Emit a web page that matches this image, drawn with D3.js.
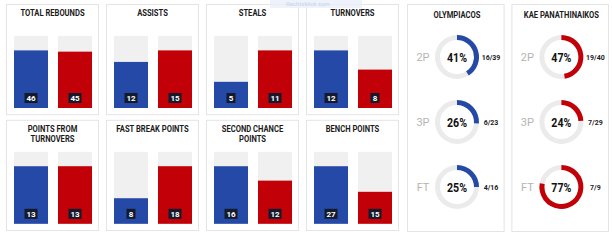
<!DOCTYPE html>
<html>
<head>
<meta charset="utf-8">
<script src="https://cdn.jsdelivr.net/npm/d3@7"></script>
<style>
  body { margin: 0; background: #fff; }
  svg { display: block; font-family: "Roboto", sans-serif; }
</style>
</head>
<body>
<div id="chart"></div>
<script>
const width = 612
const height = 246

// team comparison stats
const statTitles = [["TOTAL REBOUNDS"], ["ASSISTS"], ["STEALS"], ["TURNOVERS"],
  ["POINTS FROM", "TURNOVERS"], ["FAST BREAK POINTS"], ["SECOND CHANCE", "POINTS"], ["BENCH POINTS"]]
const olyValues = [46, 12, 5, 12, 13, 8, 16, 27]
const panValues = [45, 15, 11, 8, 13, 18, 12, 15]

// shooting
const teams = ["OLYMPIACOS", "KAE PANATHINAIKOS"]
const shotTypes = ["2P", "3P", "FT"]
const olyMade = [16, 6, 4]
const olyAtt = [39, 23, 16]
const panMade = [19, 7, 7]
const panAtt = [40, 29, 9]

const blue = "#2449a6"
const red = "#c20008"
const track = "#f0f0f0"
const border = "#e4e4e4"
const condensed = "scale(0.8,1)"

const svg = d3.select("#chart").append("svg")
  .attr("width", width)
  .attr("height", height)

const colX = d3.scaleBand().domain([0, 1, 2, 3]).range([6, 399]).paddingInner(0.07)
const rowY = d3.scaleBand().domain([0, 1]).range([4, 231]).paddingInner(0.04)
const barX = d3.scaleBand().domain(["oly", "pan"]).range([8, 86]).paddingInner(0.227)

const stats = statTitles.map((t, i) => ({ title: t, oly: olyValues[i], pan: panValues[i], col: i % 4, row: Math.floor(i / 4) }))

const panel = svg.selectAll("g.stat")
  .data(stats)
  .join("g")
    .attr("class", "stat")
    .attr("transform", d => `translate(${colX(d.col)},${rowY(d.row)})`)

panel.append("rect")
  .attr("x", 0.5).attr("y", 0.5)
  .attr("width", colX.bandwidth() - 1)
  .attr("height", rowY.bandwidth() - 1)
  .attr("fill", "#fff")
  .attr("stroke", border)

panel.each(function(d) {
  const g = d3.select(this)
  g.selectAll("g.title")
    .data(d.title)
    .join("g")
      .attr("class", "title")
      .attr("transform", (t, j) => `translate(${colX.bandwidth() / 2},${12 + j * 10}) ${condensed}`)
    .append("text")
      .attr("text-anchor", "middle")
      .attr("font-size", 9.5)
      .attr("font-weight", "bold")
      .attr("fill", "#1b1b1b")
      .text(t => t)

  const top = 32, bottom = 104
  const y = d3.scaleLinear().domain([0, Math.max(d.oly, d.pan) / 0.8]).range([bottom, top])
  const bars = [{ k: "oly", v: d.oly, c: blue }, { k: "pan", v: d.pan, c: red }]

  g.selectAll("rect.track")
    .data(bars)
    .join("rect")
      .attr("class", "track")
      .attr("x", b => barX(b.k))
      .attr("width", barX.bandwidth())
      .attr("y", top)
      .attr("height", bottom - top)
      .attr("fill", track)

  g.selectAll("rect.bar")
    .data(bars)
    .join("rect")
      .attr("class", "bar")
      .attr("x", b => barX(b.k))
      .attr("width", barX.bandwidth())
      .attr("y", b => y(b.v))
      .attr("height", b => bottom - y(b.v))
      .attr("fill", b => b.c)

  const lab = g.selectAll("g.lab")
    .data(bars)
    .join("g")
      .attr("class", "lab")
      .attr("transform", b => `translate(${barX(b.k) + barX.bandwidth() / 2},${bottom - 10})`)
  lab.append("rect")
    .attr("x", b => String(b.v).length > 1 ? -6.5 : -4.5)
    .attr("width", b => String(b.v).length > 1 ? 13 : 9)
    .attr("y", -5)
    .attr("height", 10)
    .attr("fill", "#141a2b")
  lab.append("text")
    .attr("text-anchor", "middle")
    .attr("dy", 3)
    .attr("font-size", 8)
    .attr("font-weight", "bold")
    .attr("fill", "#fff")
    .text(b => b.v)
})

// shooting panels
const shootX = d3.scaleBand().domain(teams).range([407, 609]).paddingInner(0.065)
const shotY = d3.scalePoint().domain(shotTypes).range([57, 187])
const arc = d3.arc().innerRadius(17).outerRadius(22)
const shooting = [
  { team: teams[0], color: blue, made: olyMade, att: olyAtt },
  { team: teams[1], color: red, made: panMade, att: panAtt }
]

const sp = svg.selectAll("g.shoot")
  .data(shooting)
  .join("g")
    .attr("class", "shoot")
    .attr("transform", d => `translate(${shootX(d.team)},0)`)

sp.append("rect")
  .attr("x", 0.5).attr("y", 4.5)
  .attr("width", shootX.bandwidth() - 1)
  .attr("height", 227)
  .attr("fill", "#fff")
  .attr("stroke", border)

sp.append("g")
  .attr("transform", `translate(50,18) ${condensed}`)
  .append("text")
    .attr("text-anchor", "middle")
    .attr("font-size", 9.5)
    .attr("font-weight", "bold")
    .attr("fill", "#1b1b1b")
    .text(d => d.team)

sp.each(function(d) {
  const g = d3.select(this)
  const rows = shotTypes.map((s, i) => ({ s, made: d.made[i], att: d.att[i], pct: Math.floor(d.made[i] / d.att[i] * 100) }))
  const r = g.selectAll("g.row")
    .data(rows)
    .join("g")
      .attr("class", "row")
      .attr("transform", o => `translate(50,${shotY(o.s)})`)
  r.append("path")
    .attr("d", arc({ startAngle: 0, endAngle: 2 * Math.PI }))
    .attr("fill", "#ebebeb")
  r.append("path")
    .attr("d", o => arc({ startAngle: 0, endAngle: 2 * Math.PI * o.made / o.att }))
    .attr("fill", d.color)
  r.append("g")
    .attr("transform", "scale(0.85,1)")
    .append("text")
      .attr("text-anchor", "middle")
      .attr("dy", 4.5)
      .attr("font-size", 12.5)
      .attr("font-weight", "bold")
      .attr("fill", "#111")
      .text(o => o.pct + "%")
  r.append("text")
    .attr("x", -34)
    .attr("text-anchor", "middle")
    .attr("dy", 4)
    .attr("font-size", 11)
    .attr("fill", "#b4b4b4")
    .text(o => o.s)
  r.append("text")
    .attr("x", 34)
    .attr("text-anchor", "middle")
    .attr("dy", 2.5)
    .attr("font-size", 7)
    .attr("font-weight", "bold")
    .attr("fill", "#222")
    .text(o => o.made + "/" + o.att)
})

// faint browser tooltip left in the screenshot
svg.append("rect")
  .attr("x", 270).attr("y", 0)
  .attr("width", 92).attr("height", 8)
  .attr("fill", "#eaf0fa")
  .attr("opacity", 0.8)
svg.append("text")
  .attr("x", 286).attr("y", 6)
  .attr("font-size", 6)
  .attr("fill", "#c8d2e6")
  .text("Rechtsklick zum")
</script>
</body>
</html>
